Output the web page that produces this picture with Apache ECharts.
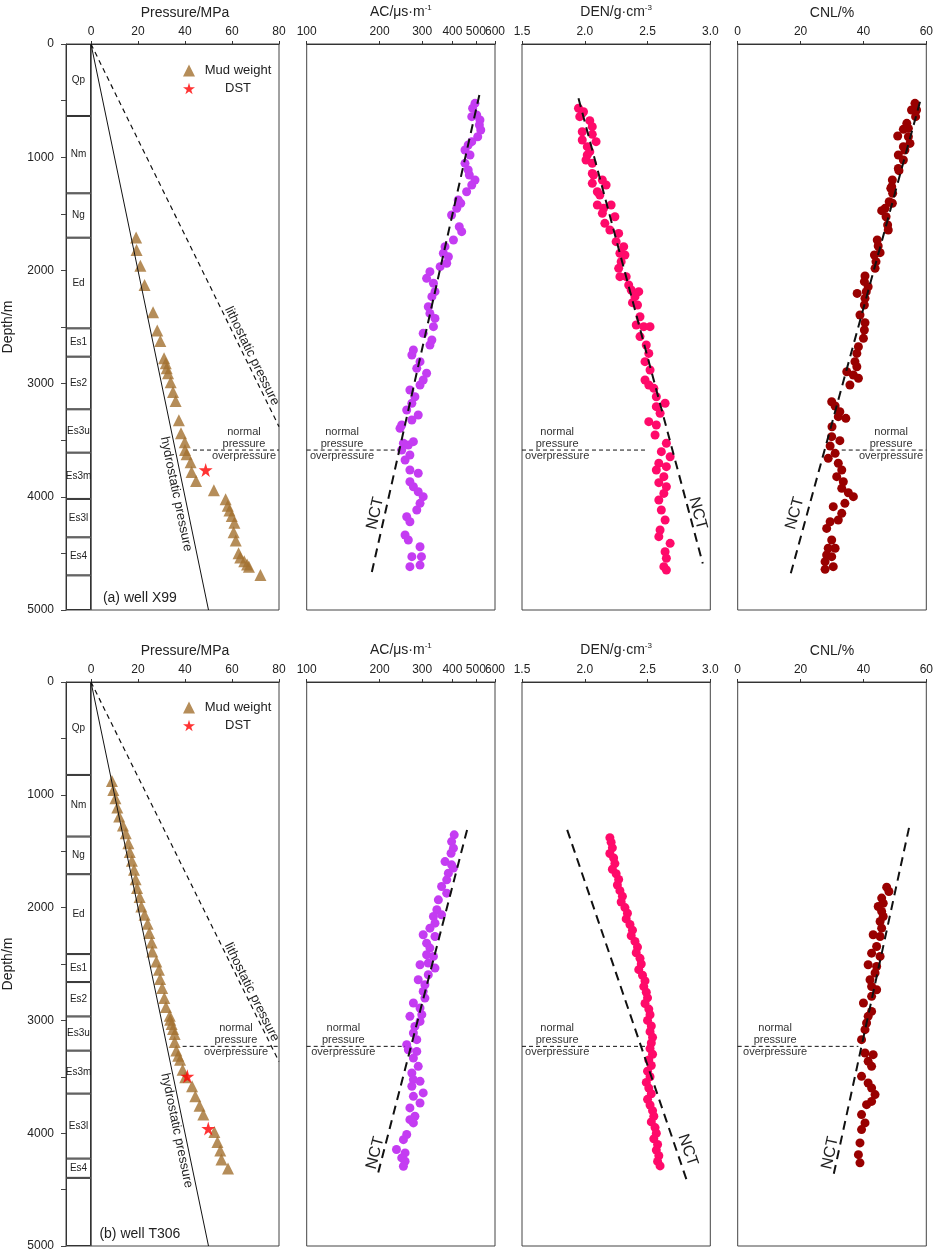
<!DOCTYPE html>
<html>
<head>
<meta charset="utf-8">
<title>Pressure profiles X99 / T306</title>
<script src="https://cdn.jsdelivr.net/npm/echarts@6/dist/echarts.min.js"></script>
<style>
  html, body { margin: 0; padding: 0; background: #fff; }
  #main { width: 934px; height: 1253px; }
</style>
</head>
<body>
<div id="main"></div>
<script>
// ---- shared ----
const depthTicks = [0, 1000, 2000, 3000, 4000, 5000]
const acTicks = [100, 200, 300, 400, 600]
const acTicksCrowded = [500]
const hydroPressure = [0, 50]
const hydroDepth = [0, 5000]

// ---- well X99 ----
const x99StrataNames = ['Qp', 'Nm', 'Ng', 'Ed', 'Es1', 'Es2', 'Es3u', 'Es3m', 'Es3l', 'Es4', '']
const x99StrataBase = [636, 1319, 1711, 2512, 2762, 3227, 3610, 4019, 4358, 4694, 5000]
const x99MudDepth = [1710, 1820, 1958, 2129, 2370, 2532, 2624, 2777, 2821, 2865, 2909, 2989, 3074, 3154, 3324, 3439, 3519, 3587, 3625, 3695, 3781, 3860, 3943, 4022, 4078, 4122, 4170, 4229, 4313, 4387, 4499, 4537, 4570, 4597, 4617, 4691]
const x99MudPressure = [19.2, 19.4, 21.0, 22.8, 26.4, 28.2, 29.5, 31.1, 31.8, 32.2, 32.8, 33.9, 34.9, 36.0, 37.4, 38.3, 39.9, 40.0, 40.7, 42.4, 42.8, 44.7, 52.3, 57.3, 58.2, 58.9, 59.9, 61.0, 60.7, 61.6, 62.8, 63.5, 65.2, 66.4, 67.2, 72.1]
const x99DstDepth = [3763]
const x99DstPressure = [48.8]
const x99LithoPressure = [0, 80]
const x99LithoDepth = [0, 3380]
const x99TopOverpressure = 3587

const x99AcDepth = [524, 568, 642, 627, 671, 716, 760, 819, 863, 892, 936, 981, 1054, 1113, 1157, 1201, 1246, 1305, 1378, 1407, 1452, 1511, 1614, 1658, 1731, 1790, 1849, 1879, 1937, 1967, 2011, 2070, 2114, 2188, 2232, 2321, 2380, 2424, 2497, 2556, 2615, 2659, 2703, 2747, 2806, 2865, 2909, 2968, 3012, 3057, 3116, 3174, 3233, 3277, 3322, 3366, 3395, 3527, 3542, 3513, 3587, 3631, 3675, 3763, 3792, 3867, 3911, 3955, 3999, 4058, 4117, 4176, 4220, 4337, 4382, 4441, 4529, 4529, 4617, 4603]
const x99AcValue = [496, 485, 481, 504, 520, 517, 524, 509, 481, 465, 451, 473, 451, 465, 470, 496, 481, 458, 423, 433, 417, 397, 427, 437, 404, 373, 367, 385, 379, 356, 323, 313, 334, 339, 329, 318, 323, 339, 334, 303, 329, 323, 276, 272, 294, 285, 313, 303, 294, 267, 280, 272, 259, 289, 272, 247, 243, 251, 263, 276, 247, 267, 255, 267, 289, 267, 276, 289, 303, 294, 285, 259, 267, 255, 263, 294, 272, 298, 267, 294]
const x99AcNctValue = [517, 184]
const x99AcNctDepth = [450, 4706]
const x99AcOverValue = [100, 242]

const x99DenDepth = [568, 612, 642, 598, 677, 730, 775, 798, 848, 863, 907, 951, 981, 1025, 1054, 1143, 1157, 1231, 1201, 1246, 1305, 1334, 1422, 1452, 1422, 1496, 1526, 1584, 1643, 1673, 1746, 1790, 1849, 1864, 1923, 1982, 2055, 2055, 2129, 2173, 2188, 2232, 2306, 2285, 2409, 2482, 2497, 2497, 2585, 2659, 2733, 2806, 2880, 2968, 3012, 3042, 3116, 3204, 3174, 3262, 3336, 3366, 3454, 3527, 3601, 3646, 3704, 3734, 3763, 3822, 3875, 3911, 3970, 4028, 4117, 4205, 4293, 4352, 4411, 4485, 4543, 4617, 4647]
const x99DenValue = [1.95, 1.98, 1.96, 1.99, 2.04, 2.06, 1.98, 2.06, 1.98, 2.09, 2.02, 2.04, 2.02, 2.01, 2.06, 2.06, 2.07, 2.06, 2.14, 2.17, 2.10, 2.12, 2.10, 2.15, 2.21, 2.14, 2.24, 2.16, 2.20, 2.27, 2.25, 2.31, 2.28, 2.32, 2.29, 2.27, 2.28, 2.33, 2.35, 2.37, 2.43, 2.40, 2.42, 2.38, 2.44, 2.41, 2.47, 2.52, 2.44, 2.49, 2.51, 2.48, 2.52, 2.48, 2.51, 2.55, 2.57, 2.57, 2.64, 2.60, 2.51, 2.57, 2.56, 2.65, 2.61, 2.68, 2.59, 2.65, 2.57, 2.63, 2.59, 2.65, 2.63, 2.59, 2.61, 2.64, 2.60, 2.59, 2.68, 2.64, 2.65, 2.63, 2.65]
const x99DenNctValue = [1.95, 2.94]
const x99DenNctDepth = [480, 4590]
const x99DenOverValue = [1.5, 2.49]

const x99CnlDepth = [524, 583, 583, 642, 701, 754, 745, 813, 819, 878, 907, 936, 981, 1025, 1099, 1119, 1201, 1260, 1275, 1319, 1393, 1407, 1452, 1472, 1526, 1599, 1643, 1731, 1784, 1843, 1864, 1923, 1982, 2049, 2099, 2144, 2203, 2188, 2247, 2306, 2394, 2462, 2527, 2600, 2674, 2733, 2806, 2851, 2895, 2924, 2953, 3012, 3160, 3198, 3248, 3292, 3307, 3381, 3469, 3504, 3551, 3616, 3660, 3704, 3763, 3822, 3867, 3925, 3964, 3999, 4058, 4146, 4087, 4205, 4220, 4279, 4382, 4455, 4455, 4514, 4529, 4573, 4617, 4641]
const x99CnlValue = [56.4, 55.3, 56.9, 56.6, 53.8, 52.7, 54.3, 50.9, 54.3, 54.8, 52.7, 53.2, 51.1, 52.7, 51.1, 51.3, 49.2, 49.0, 48.7, 49.3, 48.2, 49.2, 46.9, 45.8, 47.2, 47.7, 47.9, 44.4, 44.7, 45.3, 43.5, 44.0, 43.7, 40.5, 40.3, 41.5, 38.0, 40.9, 40.5, 40.3, 38.9, 40.5, 40.3, 40.0, 38.4, 37.9, 37.3, 37.9, 34.7, 36.8, 38.4, 35.7, 29.9, 31.0, 32.5, 32.0, 34.4, 30.0, 29.9, 32.5, 29.4, 31.0, 28.8, 32.0, 33.1, 31.5, 33.6, 33.1, 35.2, 36.8, 34.1, 33.1, 30.4, 32.0, 29.4, 28.3, 29.9, 28.8, 31.0, 28.3, 29.9, 27.8, 30.4, 27.8]
const x99CnlNctValue = [58.0, 16.6]
const x99CnlNctDepth = [510, 4706]
const x99CnlOverValue = [33.1, 60]

// ---- well T306 ----
const t306StrataNames = ['Qp', 'Nm', 'Ng', 'Ed', 'Es1', 'Es2', 'Es3u', 'Es3m', 'Es3l', 'Es4', '']
const t306StrataBase = [824, 1370, 1704, 2412, 2660, 2965, 3268, 3649, 4225, 4396, 5000]
const t306MudDepth = [877, 957, 1031, 1113, 1193, 1272, 1340, 1429, 1508, 1585, 1665, 1748, 1827, 1907, 1990, 2064, 2143, 2226, 2309, 2389, 2477, 2551, 2633, 2713, 2802, 2881, 2958, 2994, 3032, 3076, 3121, 3191, 3266, 3313, 3348, 3437, 3505, 3584, 3673, 3756, 3835, 3989, 4077, 4154, 4234, 4314]
const t306MudPressure = [8.9, 9.5, 10.4, 11.2, 12.0, 13.6, 14.8, 15.9, 16.5, 17.4, 18.3, 19.0, 19.6, 20.7, 21.4, 22.8, 24.1, 24.8, 25.8, 26.1, 27.8, 28.9, 29.4, 30.3, 31.2, 31.9, 33.5, 33.7, 34.3, 34.9, 35.6, 35.6, 36.3, 37.1, 37.9, 39.0, 40.1, 43.0, 44.4, 46.2, 47.8, 52.5, 53.8, 55.0, 55.5, 58.3]
const t306DstDepth = [3496, 3959]
const t306DstPressure = [41.0, 49.9]
const t306LithoPressure = [0, 80]
const t306LithoDepth = [0, 3365]
const t306TopOverpressure = 3230

const t306AcDepth = [1355, 1415, 1473, 1518, 1592, 1621, 1650, 1695, 1754, 1813, 1872, 1931, 2019, 2064, 2079, 2138, 2182, 2241, 2256, 2315, 2359, 2418, 2433, 2492, 2507, 2536, 2595, 2640, 2684, 2743, 2802, 2846, 2890, 2964, 2949, 3009, 3053, 3112, 3171, 3215, 3260, 3275, 3334, 3407, 3466, 3525, 3540, 3584, 3643, 3673, 3732, 3776, 3850, 3880, 3909, 4012, 4057, 4145, 4175, 4219, 4249, 4293]
const t306AcValue = [407, 397, 404, 395, 373, 397, 404, 385, 379, 361, 379, 350, 345, 361, 334, 339, 323, 303, 339, 313, 323, 313, 334, 318, 294, 339, 318, 289, 308, 303, 308, 276, 294, 267, 299, 294, 280, 276, 285, 259, 263, 285, 276, 289, 272, 276, 294, 272, 303, 276, 294, 267, 280, 267, 276, 259, 251, 235, 255, 247, 255, 251]
const t306AcNctValue = [460, 195]
const t306AcNctDepth = [1311, 4396]
const t306AcOverValue = [100, 255]

const t306DenDepth = [1380, 1420, 1470, 1520, 1560, 1610, 1660, 1700, 1750, 1800, 1850, 1900, 1950, 2000, 2050, 2100, 2150, 2200, 2250, 2300, 2350, 2400, 2450, 2500, 2550, 2600, 2650, 2700, 2750, 2800, 2850, 2900, 2950, 3000, 3050, 3100, 3150, 3200, 3250, 3300, 3350, 3400, 3450, 3500, 3550, 3600, 3650, 3700, 3750, 3800, 3850, 3900, 3950, 4000, 4050, 4100, 4150, 4200, 4250, 4290]
const t306DenValue = [2.20, 2.21, 2.22, 2.20, 2.23, 2.24, 2.22, 2.25, 2.27, 2.26, 2.28, 2.30, 2.29, 2.32, 2.34, 2.33, 2.36, 2.38, 2.37, 2.40, 2.42, 2.41, 2.44, 2.45, 2.43, 2.46, 2.48, 2.47, 2.49, 2.50, 2.48, 2.51, 2.52, 2.50, 2.53, 2.52, 2.54, 2.53, 2.52, 2.54, 2.51, 2.53, 2.50, 2.52, 2.49, 2.51, 2.53, 2.50, 2.52, 2.54, 2.55, 2.53, 2.56, 2.57, 2.55, 2.58, 2.57, 2.59, 2.58, 2.60]
const t306DenNctValue = [1.86, 2.81]
const t306DenNctDepth = [1311, 4410]
const t306DenOverValue = [1.5, 2.5]

const t306CnlDepth = [1819, 1857, 1916, 1961, 1990, 2034, 2079, 2123, 2182, 2241, 2256, 2345, 2404, 2433, 2507, 2522, 2580, 2640, 2699, 2728, 2787, 2846, 2920, 2964, 3023, 3082, 3171, 3289, 3304, 3363, 3407, 3496, 3555, 3599, 3658, 3718, 3747, 3835, 3909, 3968, 4086, 4190, 4263]
const t306CnlValue = [47.4, 48.1, 45.8, 46.3, 44.7, 45.8, 46.3, 45.3, 45.8, 43.1, 45.3, 44.2, 42.6, 45.3, 41.5, 44.2, 43.7, 42.1, 42.6, 44.2, 42.6, 40.0, 42.6, 41.5, 41.0, 40.5, 39.4, 40.5, 43.1, 41.5, 42.6, 39.4, 41.5, 42.6, 43.7, 42.6, 41.0, 39.4, 40.5, 39.4, 38.9, 38.4, 38.9]
const t306CnlNctValue = [54.5, 30.4]
const t306CnlNctDepth = [1293, 4382]
const t306CnlOverValue = [0, 38.4]

// label anchors (data units) for text along lines
const labelAnchors = [
  { litho: [68.5, 2756], hydro: [36.2, 3975], over: [65.1, 140, 1.78, 48.8], nct: [[192, 4146], [2.90, 4146], [18.2, 4146]], title: '(a) well X99' },
  { litho: [68.4, 2750], hydro: [36.5, 3976], over: [61.7, 141.7, 1.78, 11.9], nct: [[192, 4175], [2.82, 4150], [29.4, 4175]], title: '(b) well T306' }
]

const wells = [
  {
    strataNames: x99StrataNames, strataBase: x99StrataBase,
    mudD: x99MudDepth, mudP: x99MudPressure, dstD: x99DstDepth, dstP: x99DstPressure,
    lithoP: x99LithoPressure, lithoD: x99LithoDepth, topOver: x99TopOverpressure, overP: [43.4, 80],
    acD: x99AcDepth, acV: x99AcValue, acNctV: x99AcNctValue, acNctD: x99AcNctDepth, acOver: x99AcOverValue,
    denD: x99DenDepth, denV: x99DenValue, denNctV: x99DenNctValue, denNctD: x99DenNctDepth, denOver: x99DenOverValue,
    cnlD: x99CnlDepth, cnlV: x99CnlValue, cnlNctV: x99CnlNctValue, cnlNctD: x99CnlNctDepth, cnlOver: x99CnlOverValue
  },
  {
    strataNames: t306StrataNames, strataBase: t306StrataBase,
    mudD: t306MudDepth, mudP: t306MudPressure, dstD: t306DstDepth, dstP: t306DstPressure,
    lithoP: t306LithoPressure, lithoD: t306LithoDepth, topOver: t306TopOverpressure, overP: [39.0, 80],
    acD: t306AcDepth, acV: t306AcValue, acNctV: t306AcNctValue, acNctD: t306AcNctDepth, acOver: t306AcOverValue,
    denD: t306DenDepth, denV: t306DenValue, denNctV: t306DenNctValue, denNctD: t306DenNctDepth, denOver: t306DenOverValue,
    cnlD: t306CnlDepth, cnlV: t306CnlValue, cnlNctV: t306CnlNctValue, cnlNctD: t306CnlNctDepth, cnlOver: t306CnlOverValue
  }
]

// layout
const rowTop = [44, 682]
const rowHeight = [566, 564]
const colLeft = [66, 91, 306.7, 522, 737.7]
const colWidth = [25, 188, 188.3, 188.3, 188.6]

const FONT = 'Arial, "Liberation Sans", Helvetica, sans-serif'
const lg = Math.log10
const zip = (xs, ys, f) => xs.map((x, i) => [f ? f(x) : x, ys[i]])
const STAR = 'path://M50,0 L61,35 L98,35 L68,57 L79,91 L50,70 L21,91 L32,57 L2,35 L39,35 Z'

const chart = echarts.init(document.getElementById('main'))

const grids = [], xAxes = [], yAxes = [], series = []

const topAxisBase = (g) => ({
  gridIndex: g, type: 'value', position: 'top',
  nameLocation: 'middle', nameGap: 24,
  nameTextStyle: { fontSize: 14, color: '#222' },
  axisLine: { show: true, lineStyle: { color: '#333' } },
  axisTick: { show: true, inside: false, length: 3, lineStyle: { color: '#333' } },
  axisLabel: { fontSize: 12, color: '#222', margin: 6, showMinLabel: true, showMaxLabel: true, hideOverlap: false },
  splitLine: { show: false }
})

// AC is a log10 track: axis runs on log values, labels show the raw value
const acAxis = (g, ticks, withName) => {
  const ac = topAxisBase(g)
  if (withName) {
    ac.name = '{b|AC/μs·m}{s|-1}'
    ac.nameTextStyle = { rich: { b: { fontSize: 14, color: '#222', lineHeight: 16 }, s: { fontSize: 8, color: '#222', lineHeight: 8, verticalAlign: 'top' } } }
  } else {
    ac.axisLine = { show: false }
  }
  ac.min = 2
  ac.max = lg(600)
  ac.axisLabel = Object.assign({}, ac.axisLabel, { customValues: ticks.map(lg), formatter: v => String(Math.round(Math.pow(10, v))) })
  ac.axisTick = Object.assign({}, ac.axisTick, { customValues: ticks.map(lg) })
  return ac
}

for (let r = 0; r < 2; r++) {
  for (let c = 0; c < 5; c++) {
    const g = r * 5 + c
    grids.push({
      left: colLeft[c], top: rowTop[r], width: colWidth[c], height: rowHeight[r],
      containLabel: false, outerBoundsMode: 'none',
      show: true, borderColor: '#444', borderWidth: 1, backgroundColor: 'transparent'
    })
    // depth axis
    yAxes.push({
      gridIndex: g, type: 'value', min: 0, max: 5000, interval: 500, inverse: true,
      show: c === 0,
      name: c === 0 ? 'Depth/m' : '', nameLocation: 'middle', nameGap: 51,
      nameTextStyle: { fontSize: 14, color: '#222' },
      axisLine: { show: true, lineStyle: { color: '#444' } },
      axisTick: { show: true, inside: false, length: 5, lineStyle: { color: '#444' } },
      axisLabel: { fontSize: 12, color: '#222', margin: 12,
        formatter: v => depthTicks.indexOf(v) >= 0 ? String(v) : '' },
      splitLine: { show: false }
    })
  }
  const g0 = r * 5
  xAxes.push({ gridIndex: g0, type: 'category', data: ['strata'], show: false })
  xAxes.push(Object.assign(topAxisBase(g0 + 1), { name: 'Pressure/MPa', min: 0, max: 80, interval: 20 }))
  xAxes.push(acAxis(g0 + 2, acTicks, true))
  const den = topAxisBase(g0 + 3)
  den.name = '{b|DEN/g·cm}{s|-3}'
  den.nameTextStyle = { rich: { b: { fontSize: 14, color: '#222', lineHeight: 16 }, s: { fontSize: 8, color: '#222', lineHeight: 8, verticalAlign: 'top' } } }
  den.min = 1.5
  den.max = 3.0
  den.interval = 0.5
  den.axisLabel = Object.assign({}, den.axisLabel, { formatter: v => v.toFixed(1) })
  xAxes.push(den)
  xAxes.push(Object.assign(topAxisBase(g0 + 4), { name: 'CNL/%', min: 0, max: 60, interval: 20 }))
}
// the 500 label sits right against 600, so it gets its own overlay axis
xAxes.push(acAxis(2, acTicksCrowded, false))
xAxes.push(acAxis(7, acTicksCrowded, false))

const dashLine = (g, data, width, dash, z) => ({
  type: 'line', xAxisIndex: g, yAxisIndex: g, data, symbol: 'none', silent: true, z: z || 3,
  lineStyle: { color: '#111', width, type: dash }
})

wells.forEach((w, r) => {
  const g = r * 5
  // strata column
  w.strataNames.forEach((n, i) => {
    series.push({
      type: 'bar', name: n || 'base', xAxisIndex: g, yAxisIndex: g, stack: 'strata' + r,
      barWidth: '100%', silent: true,
      data: [w.strataBase[i] - (i ? w.strataBase[i - 1] : 0)],
      itemStyle: { color: '#fff', borderColor: '#333', borderWidth: 1 },
      label: { show: !!n, position: 'inside', formatter: n, fontSize: 10, color: '#222' }
    })
  })
  // pressure track
  series.push(dashLine(g + 1, zip(hydroPressure, hydroDepth), 1, 'solid'))
  series.push(dashLine(g + 1, zip(w.lithoP, w.lithoD), 1.2, [5, 4]))
  series.push(dashLine(g + 1, zip(w.overP, [w.topOver, w.topOver]), 1, [4, 3]))
  series.push({
    type: 'scatter', name: 'Mud weight', xAxisIndex: g + 1, yAxisIndex: g + 1,
    symbol: 'triangle', symbolSize: 12, itemStyle: { color: '#a3702f' },
    data: zip(w.mudP, w.mudD)
  })
  series.push({
    type: 'scatter', name: 'DST', xAxisIndex: g + 1, yAxisIndex: g + 1, z: 4,
    symbol: STAR, symbolSize: 14, itemStyle: { color: '#ff0000' },
    data: zip(w.dstP, w.dstD)
  })
  // AC track (log scale)
  series.push({
    type: 'scatter', name: 'AC', xAxisIndex: g + 2, yAxisIndex: g + 2,
    symbolSize: 9, itemStyle: { color: '#c43cf2', opacity: 1 },
    data: zip(w.acV, w.acD, lg)
  })
  series.push(dashLine(g + 2, zip(w.acNctV, w.acNctD, lg), 2, [9, 6], 5))
  series.push(dashLine(g + 2, zip(w.acOver, [w.topOver, w.topOver], lg), 1, [4, 3]))
  // DEN track
  series.push({
    type: 'scatter', name: 'DEN', xAxisIndex: g + 3, yAxisIndex: g + 3,
    symbolSize: 9, itemStyle: { color: '#ff0a6a', opacity: 1 },
    data: zip(w.denV, w.denD)
  })
  series.push(dashLine(g + 3, zip(w.denNctV, w.denNctD), 2, [9, 6], 5))
  series.push(dashLine(g + 3, zip(w.denOver, [w.topOver, w.topOver]), 1, [4, 3]))
  // CNL track
  series.push({
    type: 'scatter', name: 'CNL', xAxisIndex: g + 4, yAxisIndex: g + 4,
    symbolSize: 9, itemStyle: { color: '#990000', opacity: 1 },
    data: zip(w.cnlV, w.cnlD)
  })
  series.push(dashLine(g + 4, zip(w.cnlNctV, w.cnlNctD), 2, [9, 6], 5))
  series.push(dashLine(g + 4, zip(w.cnlOver, [w.topOver, w.topOver]), 1, [4, 3]))
})

const legendBase = (top) => ({
  left: 178, top, orient: 'vertical', itemWidth: 12, itemHeight: 12, itemGap: 5,
  selectedMode: false, data: ['Mud weight', 'DST'],
  formatter: n => '{t|' + n + '}',
  textStyle: { rich: { t: { width: 76, align: 'center', fontSize: 13, color: '#222' } } }
})

chart.setOption({
  animation: false,
  backgroundColor: '#fff',
  textStyle: { fontFamily: FONT },
  legend: [legendBase(59), legendBase(696)],
  grid: grids,
  xAxis: xAxes,
  yAxis: yAxes,
  series
})

// text annotations placed via the axes
const px = (g, x, y) => chart.convertToPixel({ gridIndex: g }, [x, y])
const angleOf = (g, a, b) => {
  const p = px(g, a[0], a[1]), q = px(g, b[0], b[1])
  return Math.atan2(p[1] - q[1], q[0] - p[0])
}
const texts = []
const addText = (g, pos, text, size, rot, dy, color) => {
  const p = px(g, pos[0], pos[1])
  texts.push({
    type: 'text', x: p[0], y: p[1] + (dy || 0), rotation: rot || 0, silent: true, z: 10,
    style: { text, fill: color || '#222', font: size + 'px ' + FONT,
      textAlign: 'center', textVerticalAlign: 'middle', align: 'center', verticalAlign: 'middle' }
  })
}

wells.forEach((w, r) => {
  const g = r * 5
  const a = labelAnchors[r]
  addText(g + 1, a.litho, 'lithostatic pressure', 13,
    angleOf(g + 1, [w.lithoP[0], w.lithoD[0]], [w.lithoP[1], w.lithoD[1]]))
  addText(g + 1, a.hydro, 'hydrostatic pressure', 13,
    angleOf(g + 1, [hydroPressure[0], hydroDepth[0]], [hydroPressure[1], hydroDepth[1]]))
  addText(g + 1, [20.8, 4895], a.title, 14)
  const overX = [a.over[0], lg(a.over[1]), a.over[2], a.over[3]]
  overX.forEach((x, i) => {
    addText(g + 1 + i, [x, w.topOver], 'normal', 11, 0, -18, '#333')
    addText(g + 1 + i, [x, w.topOver], 'pressure', 11, 0, -6, '#333')
    addText(g + 1 + i, [x, w.topOver], 'overpressure', 11, 0, 6, '#333')
  })
  // NCT labels: AC and CNL read upward, DEN reads downward
  addText(g + 2, [lg(a.nct[0][0]), a.nct[0][1]], 'NCT', 16,
    angleOf(g + 2, [lg(w.acNctV[1]), w.acNctD[1]], [lg(w.acNctV[0]), w.acNctD[0]]))
  addText(g + 3, a.nct[1], 'NCT', 16,
    angleOf(g + 3, [w.denNctV[0], w.denNctD[0]], [w.denNctV[1], w.denNctD[1]]))
  addText(g + 4, a.nct[2], 'NCT', 16,
    angleOf(g + 4, [w.cnlNctV[1], w.cnlNctD[1]], [w.cnlNctV[0], w.cnlNctD[0]]))
})

chart.setOption({ graphic: { elements: texts } })
</script>
</body>
</html>
